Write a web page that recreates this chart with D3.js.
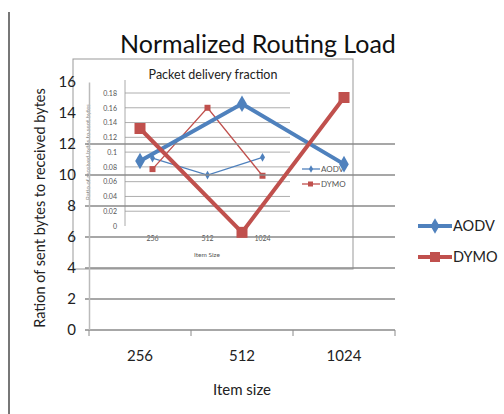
<!DOCTYPE html>
<html><head><meta charset="utf-8">
<script src="https://cdn.jsdelivr.net/npm/d3@7"></script>
<style>body{margin:0;background:#fff;}svg{display:block;font-family:Lato,"Open Sans",sans-serif;}</style>
</head><body>
<script>
const categories = ["256","512","1024"];
const mainSeriesNames = ["AODV","DYMO"];
const aodvLoad = [10.9, 14.6, 10.7];
const dymoLoad = [13.0, 6.3, 15.0];
const mainYTicks = [0,2,4,6,8,10,12,14,16];
const insetAodv = [0.092, 0.069, 0.093];
const insetDymo = [0.077, 0.160, 0.068];
const insetYTicks = [0,0.02,0.04,0.06,0.08,0.1,0.12,0.14,0.16,0.18];
const insetYTickLabels = ["0","0.02","0.04","0.06","0.08","0.1","0.12","0.14","0.16","0.18"];

const W=504,H=414;
const blue="#4F81BD", red="#C0504D";
const svg=d3.select("body").append("svg").attr("width",W).attr("height",H);

// left border line
svg.append("line").attr("x1",9).attr("x2",9).attr("y1",12).attr("y2",H).attr("stroke","#777").attr("stroke-width",2);

// main scales
const x=d3.scaleBand().domain(categories).range([89,395]);
const y=d3.scaleLinear().domain([0,16]).range([330,82]);

// title
svg.append("text").attr("x",258).attr("y",53).attr("text-anchor","middle").attr("font-size",25).attr("fill","#111").text("Normalized Routing Load");

// ---- inset chart ----
const ix=d3.scaleBand().domain(categories).range([125,290]);
const iy=d3.scaleLinear().domain([0,0.18]).range([226,93]);
const inset=svg.append("g");
inset.append("rect").attr("x",73).attr("y",59).attr("width",280).attr("height",210).attr("fill","#fff").attr("stroke","#999").attr("stroke-width",1);
inset.append("text").attr("x",213).attr("y",79).attr("text-anchor","middle").attr("font-size",12.5).attr("fill","#222").text("Packet delivery fraction");
const iyAxis=inset.append("g").attr("transform","translate(125,0)")
  .call(d3.axisLeft(iy).tickValues(insetYTicks).tickFormat((d,i)=>insetYTickLabels[i]).tickSize(0).tickPadding(8));
iyAxis.select(".domain").attr("stroke","#aaa").attr("d","M0,80V226");
iyAxis.selectAll("text").attr("font-size",7).attr("fill","#555").attr("font-family","Lato,sans-serif");
inset.append("g").selectAll("line").data(insetYTicks.filter(d=>d>0)).join("line")
  .attr("x1",125).attr("x2",290).attr("y1",d=>iy(d)).attr("y2",d=>iy(d)).attr("stroke","#999").attr("stroke-width",0.8);
const ixAxis=inset.append("g").attr("transform","translate(0,232)").call(d3.axisBottom(ix).tickSize(0).tickPadding(4));
ixAxis.select(".domain").remove();
ixAxis.selectAll("text").attr("font-size",7).attr("fill","#555").attr("font-family","Lato,sans-serif");
inset.append("text").attr("x",207).attr("y",257).attr("text-anchor","middle").attr("font-size",6.5).attr("fill","#555").text("Item Size");
inset.append("text").attr("transform","translate(90,152) rotate(-90)").attr("text-anchor","middle").attr("font-size",6).attr("fill","#888").text("Ratio of received bytes to sent bytes");
const iline=d3.line().x((d,i)=>ix(categories[i])+ix.bandwidth()/2).y(d=>iy(d));
inset.append("path").datum(insetAodv).attr("d",iline).attr("fill","none").attr("stroke",blue).attr("stroke-width",1.3);
inset.append("g").selectAll("path").data(insetAodv).join("path")
  .attr("d",d3.symbol(d3.symbolDiamond,22)).attr("fill",blue)
  .attr("transform",(d,i)=>`translate(${ix(categories[i])+ix.bandwidth()/2},${iy(d)})`);
inset.append("path").datum(insetDymo).attr("d",iline).attr("fill","none").attr("stroke",red).attr("stroke-width",1.3);
inset.append("g").selectAll("rect").data(insetDymo).join("rect")
  .attr("x",(d,i)=>ix(categories[i])+ix.bandwidth()/2-3).attr("y",d=>iy(d)-3).attr("width",6).attr("height",6).attr("fill",red);
// inset legend
[[ "AODV", blue, 169 ], [ "DYMO", red, 184 ]].forEach(([n,c,yy],k)=>{
  inset.append("line").attr("x1",302).attr("x2",320).attr("y1",yy).attr("y2",yy).attr("stroke",c).attr("stroke-width",1.3);
  if(k===0) inset.append("path").attr("d",d3.symbol(d3.symbolDiamond,16)).attr("fill",c).attr("transform",`translate(311,${yy})`);
  else inset.append("rect").attr("x",308).attr("y",yy-2.5).attr("width",5).attr("height",5).attr("fill",c);
  inset.append("text").attr("x",321).attr("y",yy+3).attr("font-size",8).attr("fill","#555").text(n);
});

// ---- main axes ----
// gridlines (only visible ones up to 12)
svg.append("g").selectAll("line").data(mainYTicks.filter(d=>d<=12)).join("line")
  .attr("x1",d=>d<=4?85:85).attr("x2",395).attr("y1",d=>y(d)).attr("y2",d=>y(d))
  .attr("stroke","#8a8a8a").attr("stroke-width",1.3);
const yAxis=svg.append("g").attr("transform","translate(89,0)").call(d3.axisLeft(y).tickValues(mainYTicks).tickSize(0).tickPadding(13));
yAxis.select(".domain").attr("stroke","#bbb").attr("stroke-width",1.5);
yAxis.selectAll("text").attr("font-size",15).attr("fill","#222").attr("font-family","Lato,sans-serif");
const xAxis=svg.append("g").attr("transform","translate(0,330)").call(d3.axisBottom(x).tickSize(0).tickPadding(20));
xAxis.select(".domain").remove();
xAxis.selectAll("text").attr("font-size",15).attr("fill","#222").attr("font-family","Lato,sans-serif");
svg.append("g").selectAll("line").data([89,191,293,395]).join("line")
  .attr("x1",d=>d).attr("x2",d=>d).attr("y1",330).attr("y2",336).attr("stroke","#8a8a8a");
svg.append("text").attr("x",242).attr("y",395).attr("text-anchor","middle").attr("font-size",15).attr("fill","#222").text("Item size");
svg.append("text").attr("transform","translate(45,208) rotate(-90)").attr("text-anchor","middle").attr("font-size",14.5).attr("fill","#222").text("Ration of sent bytes to received bytes");

// main lines
const mline=d3.line().x((d,i)=>x(categories[i])+x.bandwidth()/2).y(d=>y(d));
svg.append("path").datum(aodvLoad).attr("d",mline).attr("fill","none").attr("stroke",blue).attr("stroke-width",4);
svg.append("g").selectAll("path").data(aodvLoad).join("path")
  .attr("d",d3.symbol(d3.symbolDiamond,80)).attr("fill",blue)
  .attr("transform",(d,i)=>`translate(${x(categories[i])+x.bandwidth()/2},${y(d)})`);
svg.append("path").datum(dymoLoad).attr("d",mline).attr("fill","none").attr("stroke",red).attr("stroke-width",4);
svg.append("g").selectAll("rect").data(dymoLoad).join("rect")
  .attr("x",(d,i)=>x(categories[i])+x.bandwidth()/2-5.5).attr("y",d=>y(d)-5.5).attr("width",11).attr("height",11).attr("fill",red);

// main legend
[[mainSeriesNames[0], blue, 226],[mainSeriesNames[1], red, 257]].forEach(([n,c,yy],k)=>{
  svg.append("line").attr("x1",418).attr("x2",452).attr("y1",yy).attr("y2",yy).attr("stroke",c).attr("stroke-width",4);
  if(k===0) svg.append("path").attr("d",d3.symbol(d3.symbolDiamond,70)).attr("fill",c).attr("transform",`translate(435,${yy})`);
  else svg.append("rect").attr("x",430).attr("y",yy-5).attr("width",10).attr("height",10).attr("fill",c);
  svg.append("text").attr("x",453).attr("y",yy+5).attr("font-size",14.5).attr("fill","#222").text(n);
});
</script>
</body></html>
